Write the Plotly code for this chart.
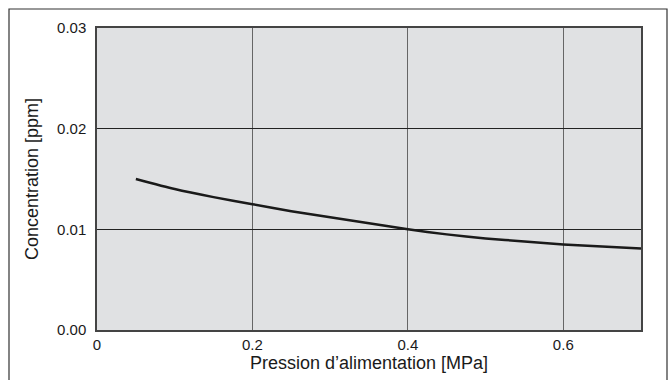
import plotly.graph_objects as go

pressure = [0.05, 0.1, 0.15, 0.2, 0.25, 0.3, 0.35, 0.4, 0.45, 0.5, 0.55, 0.6, 0.65, 0.7]
concentration = [0.0150, 0.0140, 0.0132, 0.0125, 0.0118, 0.0112, 0.0106, 0.0100, 0.0095, 0.0091, 0.0088, 0.0085, 0.0083, 0.0081]

x_ticks = [0, 0.2, 0.4, 0.6]
x_ticklabels = ["0", "0.2", "0.4", "0.6"]
y_ticks = [0, 0.01, 0.02, 0.03]
y_ticklabels = ["0.00", "0.01", "0.02", "0.03"]

fig = go.Figure()
fig.add_trace(go.Scatter(x=pressure, y=concentration, mode="lines",
                         line=dict(color="#1a1a1a", width=2.5, shape="spline", smoothing=0.6),
                         showlegend=False))

W, H = 672, 380
L, R, T, B = 97, 31, 28, 50
pw, ph = W - L - R, H - T - B

fig.update_layout(
    width=W, height=H,
    margin=dict(l=L, r=R, t=T, b=B),
    paper_bgcolor="white",
    plot_bgcolor="#e0e1e3",
    font=dict(family="Liberation Sans, Arial, sans-serif", size=15, color="#1a1a1a"),
    xaxis=dict(range=[0, 0.7], tickvals=x_ticks, ticktext=x_ticklabels,
               showgrid=True, gridcolor="#666666", gridwidth=1,
               showline=True, linecolor="#444444", linewidth=1.5, mirror=True,
               ticks="", zeroline=False, ticklabelstandoff=0,
               title=dict(text="Pression d’alimentation [MPa]", font=dict(size=18), standoff=0)),
    yaxis=dict(range=[0, 0.03], tickvals=y_ticks, ticktext=y_ticklabels,
               showgrid=True, gridcolor="#222222", gridwidth=1,
               showline=True, linecolor="#444444", linewidth=1.5, mirror=True,
               ticks="", zeroline=False, ticklabelstandoff=6,
               title=dict(text="Concentration [ppm]", font=dict(size=18), standoff=14)),
    shapes=[dict(type="rect", xref="paper", yref="paper",
                 x0=(9 - L) / pw, x1=(667 - L) / pw,
                 y0=-0.5, y1=(H - B - 9) / ph,
                 line=dict(color="#333333", width=1.2), fillcolor="rgba(0,0,0,0)",
                 layer="below")],
)

fig.write_html("out.html", config={"displayModeBar": False},
               post_script="document.body.style.margin='0';document.body.style.overflow='hidden';")
